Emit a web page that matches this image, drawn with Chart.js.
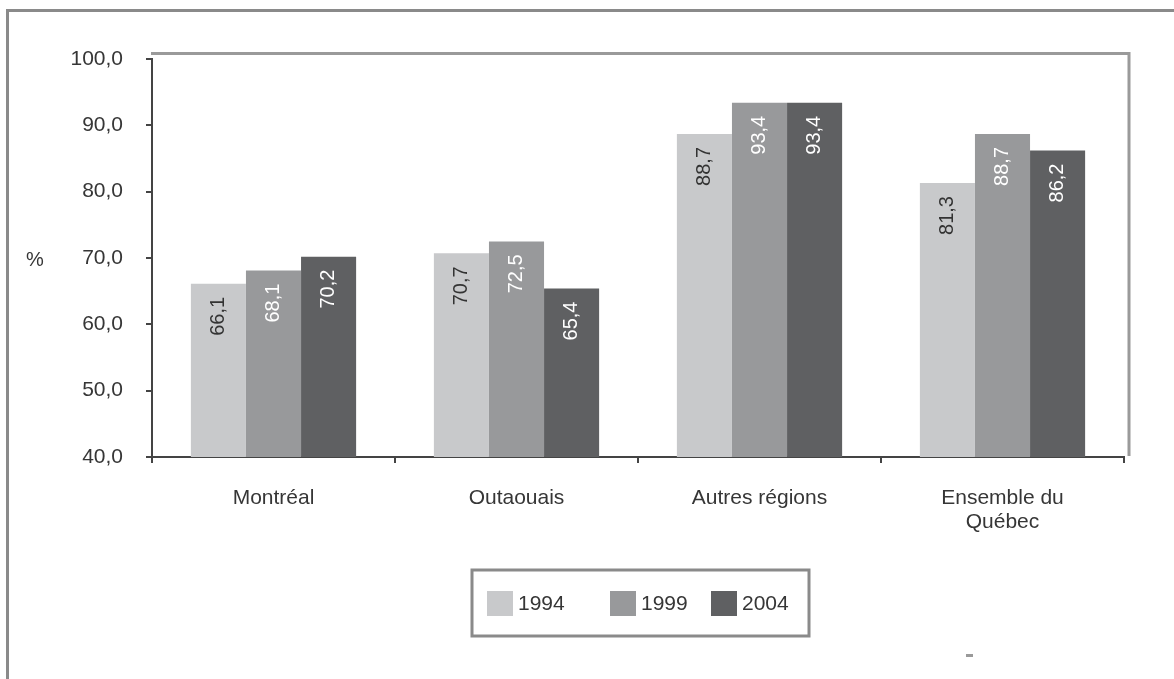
<!DOCTYPE html>
<html lang="fr">
<head>
<meta charset="utf-8">
<title>Proportion par région, 1994, 1999 et 2004</title>
<script src="https://cdn.jsdelivr.net/npm/chart.js@4.4.1/dist/chart.umd.min.js"></script>
<style>
  html, body { margin: 0; padding: 0; background: #ffffff; }
  #wrap { position: relative; width: 1174px; height: 679px; }
  canvas { display: block; }
</style>
</head>
<body>
<div id="wrap"><canvas id="chart" width="1174" height="679"></canvas></div>
<script>
// Regions (last one on two lines)
const categories = ['Montréal', 'Outaouais', 'Autres régions', ['Ensemble du', 'Québec']];
// Survey years
const years = ['1994', '1999', '2004'];
// Percentages per year, one value per region
const values1994 = [66.1, 70.7, 88.7, 81.3];
const values1999 = [68.1, 72.5, 93.4, 88.7];
const values2004 = [70.2, 65.4, 93.4, 86.2];
// Value axis ticks
const yTicks = [40, 50, 60, 70, 80, 90, 100];
const yUnit = '%';

const barColors = ['#c8c9cb', '#98999b', '#5f6062'];
const labelColors = ['#333333', '#ffffff', '#ffffff'];
const FONT = "'Liberation Sans', Arial, Helvetica, sans-serif";
const TEXT = '#363636';
const fmt = v => v.toFixed(1).replace('.', ',');

// Frame, plot-area box, unit label and a boxed legend
const decorations = {
  id: 'decorations',
  afterDraw(chart) {
    const ctx = chart.ctx;
    const a = chart.chartArea;
    ctx.save();
    // outer frame (top and left edges)
    ctx.strokeStyle = '#8a8a8a';
    ctx.lineWidth = 3;
    ctx.beginPath();
    ctx.moveTo(1174, 10.5);
    ctx.lineTo(7.5, 10.5);
    ctx.lineTo(7.5, 679);
    ctx.stroke();
    // plot-area box (top and right edges)
    ctx.strokeStyle = '#9a9a9a';
    ctx.lineWidth = 3;
    ctx.beginPath();
    ctx.moveTo(a.left - 1, 53.5);
    ctx.lineTo(a.right + 5, 53.5);
    ctx.lineTo(a.right + 5, a.bottom - 1);
    ctx.stroke();
    // unit label
    ctx.fillStyle = TEXT;
    ctx.font = '20px ' + FONT;
    ctx.textAlign = 'center';
    ctx.textBaseline = 'middle';
    ctx.fillText(yUnit, 35, 260);
    // legend box
    ctx.strokeStyle = '#8a8a8a';
    ctx.lineWidth = 3;
    ctx.strokeRect(472, 570, 337, 66);
    const swatchX = [487, 610, 711];
    ctx.font = '21px ' + FONT;
    ctx.textAlign = 'left';
    chart.data.datasets.forEach((ds, i) => {
      ctx.fillStyle = ds.backgroundColor;
      ctx.fillRect(swatchX[i], 591, 26, 25);
      ctx.fillStyle = TEXT;
      ctx.fillText(ds.label, swatchX[i] + 31, 604);
    });
    // small mark near the bottom edge
    ctx.fillStyle = '#9a9a9a';
    ctx.fillRect(966, 654, 7, 3);
    ctx.restore();
  }
};

// Rotated value labels inside the top of each bar
const barLabels = {
  id: 'barLabels',
  afterDatasetsDraw(chart) {
    const ctx = chart.ctx;
    ctx.save();
    ctx.font = '20px ' + FONT;
    ctx.textAlign = 'right';
    ctx.textBaseline = 'middle';
    chart.data.datasets.forEach((ds, di) => {
      const meta = chart.getDatasetMeta(di);
      meta.data.forEach((bar, i) => {
        ctx.save();
        ctx.translate(bar.x, bar.y + 13);
        ctx.rotate(-Math.PI / 2);
        ctx.fillStyle = labelColors[di];
        ctx.fillText(fmt(ds.data[i]), 0, 0);
        ctx.restore();
      });
    });
    ctx.restore();
  }
};

new Chart(document.getElementById('chart'), {
  type: 'bar',
  data: {
    labels: categories,
    datasets: [
      { label: years[0], data: values1994, backgroundColor: barColors[0] },
      { label: years[1], data: values1999, backgroundColor: barColors[1] },
      { label: years[2], data: values2004, backgroundColor: barColors[2] }
    ]
  },
  options: {
    responsive: false,
    animation: false,
    devicePixelRatio: 1,
    layout: { padding: { left: 0, right: 50, top: 59, bottom: 0 } },
    datasets: {
      bar: { categoryPercentage: 0.68, barPercentage: 1.0, borderWidth: 0 }
    },
    plugins: {
      legend: { display: false },
      tooltip: { enabled: false }
    },
    scales: {
      x: {
        offset: true,
        grid: {
          offset: true,
          drawOnChartArea: false,
          drawTicks: true,
          tickLength: 6,
          color: '#444444',
          lineWidth: 2
        },
        border: { display: true, color: '#444444', width: 2 },
        ticks: {
          color: TEXT,
          font: { family: FONT, size: 21, lineHeight: 1.15 },
          padding: 23,
          maxRotation: 0,
          autoSkip: false
        },
        afterFit(scale) { scale.height = 222; }
      },
      y: {
        min: yTicks[0],
        max: yTicks[yTicks.length - 1],
        afterBuildTicks(scale) { scale.ticks = yTicks.map(v => ({ value: v })); },
        grid: {
          drawOnChartArea: false,
          drawTicks: true,
          tickLength: 6,
          color: '#444444',
          lineWidth: 2
        },
        border: { display: true, color: '#444444', width: 2 },
        ticks: {
          color: TEXT,
          font: { family: FONT, size: 21 },
          padding: 23,
          callback: v => fmt(v)
        },
        afterFit(scale) { scale.width = 152; }
      }
    }
  },
  plugins: [barLabels, decorations]
});
</script>
</body>
</html>
